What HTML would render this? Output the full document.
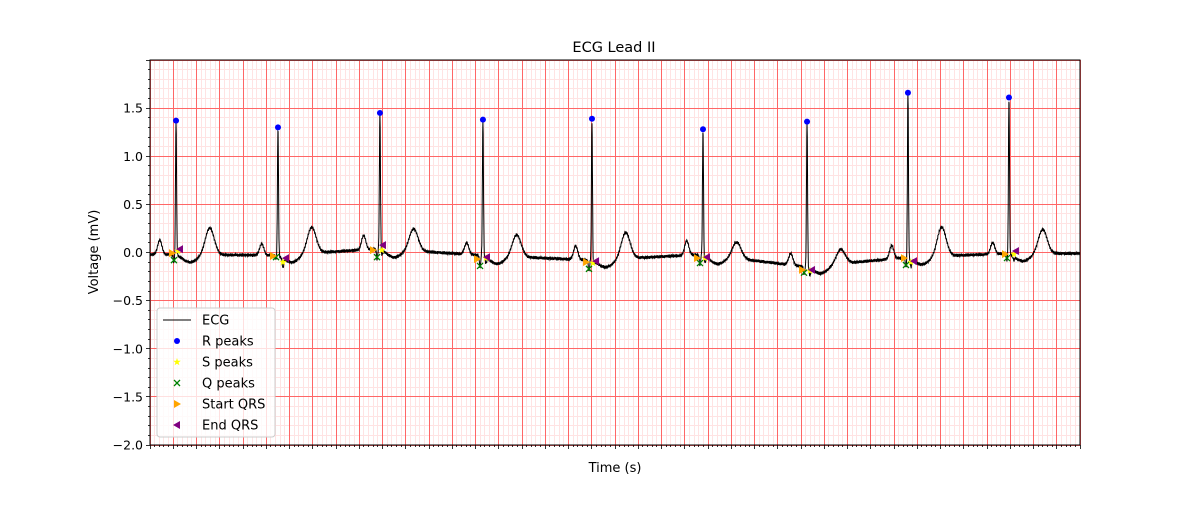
<!DOCTYPE html>
<html><head><meta charset="utf-8"><style>
body{margin:0;background:#fff;font-family:"Liberation Sans",sans-serif}
svg text{font-family:"DejaVu Sans","Liberation Sans",sans-serif}
</style></head><body>
<svg id="c" width="1200" height="500" xmlns="http://www.w3.org/2000/svg">
<rect width="1200" height="500" fill="#fff"/>
<g id="grid" shape-rendering="crispEdges"></g>
<g id="plot"></g>
<g id="axes"></g>
<text x="614" y="52" text-anchor="middle" font-size="14.5">ECG Lead II</text>
<text x="615" y="472" text-anchor="middle" font-size="13">Time (s)</text>
<text transform="translate(98,252) rotate(-90)" text-anchor="middle" font-size="13">Voltage (mV)</text>
<g id="legend"></g>
</svg>
<script>
const rTimes=[0.224,1.101,1.978,2.864,3.802,4.757,5.652,6.520,7.389];
const rAmps=[1.37,1.30,1.45,1.38,1.39,1.28,1.36,1.66,1.61];
const qTimes=[0.206,1.084,1.953,2.839,3.776,4.731,5.626,6.503,7.372];
const qAmps=[-0.079,-0.048,-0.048,-0.14,-0.17,-0.11,-0.21,-0.13,-0.058];
const sTimes=[0.241,1.144,1.995,2.890,3.811,4.774,5.677,6.546,7.432];
const sAmps=[0.015,-0.10,0.025,-0.058,-0.11,-0.058,-0.19,-0.10,-0.017];
const startTimes=[0.189,1.058,1.918,2.813,3.751,4.705,5.609,6.486,7.355];
const startAmps=[-0.006,-0.037,0.025,-0.069,-0.10,-0.058,-0.18,-0.058,-0.017];
const endTimes=[0.258,1.170,2.004,2.899,3.837,4.791,5.695,6.572,7.449];
const endAmps=[0.035,-0.058,0.077,-0.048,-0.089,-0.048,-0.18,-0.089,0.015];
const baseLevels=[-0.02,-0.03,0.04,-0.03,-0.08,-0.02,-0.15,-0.05,-0.01];
const pAmps=[0.15,0.12,0.15,0.12,0.14,0.15,0.12,0.14,0.12];
const tAmps=[0.28,0.27,0.23,0.23,0.27,0.17,0.15,0.30,0.25];
const yTicks=[-2.0,-1.5,-1.0,-0.5,0.0,0.5,1.0,1.5];
const yTickLabels=["\u22122.0","\u22121.5","\u22121.0","\u22120.5","0.0","0.5","1.0","1.5"];

const X0=150,X1=1080,Y0=60,Y1=445,TMIN=0,TMAX=8,VMIN=-2,VMAX=2;
const sx=t=>X0+(t-TMIN)/(TMAX-TMIN)*(X1-X0);
const sy=v=>Y1-(v-VMIN)/(VMAX-VMIN)*(Y1-Y0);
const snap=p=>Math.round(p-0.5)+0.5;
const NS="http://www.w3.org/2000/svg";
function mk(tag,attrs,parent){const e=document.createElementNS(NS,tag);for(const k in attrs)e.setAttribute(k,attrs[k]);parent.appendChild(e);return e;}
const grid=document.getElementById('grid'),plot=document.getElementById('plot'),axes=document.getElementById('axes'),leg=document.getElementById('legend');

// minor first, then major on top
for(const pass of [0,1]){
 for(let i=0;i<=200;i++){const t=i*0.04,x=snap(sx(t));if(x>X1+0.6)break;const major=i%5===0;if(major!==!!pass)continue;
  const l=mk('line',{x1:x,x2:x,y1:Y0,y2:Y1,stroke:major?'#ff6666':'#ffe3e3','stroke-width':1},grid);
  
  const tk=mk('line',{x1:x,x2:x,y1:Y1,y2:Y1+(major?4:2),stroke:'#000','stroke-width':0.8},axes);
  }
 for(let i=0;i<=40;i++){const v=VMIN+i*0.1,y=snap(sy(v));if(y<Y0-0.6)break;const major=i%5===0;if(major!==!!pass)continue;
  const l=mk('line',{x1:X0,x2:X1,y1:y,y2:y,stroke:major?'#ff6666':'#ffe3e3','stroke-width':1},grid);
  
  const tk=mk('line',{x1:X0,x2:X0-(major?4:2),y1:y,y2:y,stroke:'#000','stroke-width':0.8},axes);
  }
}
yTicks.forEach((v,i)=>{const t=mk('text',{x:X0-7,y:sy(v)+4.5,'text-anchor':'end','font-size':12.5},axes);t.textContent=yTickLabels[i];
 });
const fr=mk('rect',{x:X0,y:Y0,width:X1-X0,height:Y1-Y0,fill:'none',stroke:'#000','stroke-width':1},axes);


const g=(t,c,w)=>Math.exp(-0.5*((t-c)/w)**2);
function baseAt(t){if(t<=rTimes[0])return baseLevels[0];const n=rTimes.length;if(t>=rTimes[n-1])return baseLevels[n-1];
 for(let i=0;i<n-1;i++)if(t<=rTimes[i+1]){const f=(t-rTimes[i])/(rTimes[i+1]-rTimes[i]);return baseLevels[i]+f*(baseLevels[i+1]-baseLevels[i]);}}
let d='';
for(let t=0;t<=8.0001;t+=0.002){let v=baseAt(t);
 for(let i=0;i<rTimes.length;i++){const b=baseLevels[i],r=rTimes[i];if(Math.abs(t-r)>0.6)continue;
  v+=pAmps[i]*g(t,r-0.14,0.018);
  v+=(qAmps[i]-b-0.02)*g(t,qTimes[i],0.005);
  v+=(rAmps[i]-b)*g(t,r,0.0045);
  v+=(sAmps[i]-b-0.03)*g(t,sTimes[i],0.006);
  v+=-0.08*g(t,r+0.12,0.06);
  v+=tAmps[i]*g(t,r+0.29,0.038);}
 v+=0.01*Math.sin(t*611)+0.008*Math.sin(t*1373);
 d+=(d?'L':'M')+sx(t).toFixed(1)+' '+sy(v).toFixed(1);}
const ecg=mk('path',{d:d,fill:'none',stroke:'#000','stroke-width':1},plot);


function marker(kind,x,y,color,parent){let e;
 if(kind==='dot')e=mk('circle',{cx:x,cy:y,r:3,fill:color},parent);
 else if(kind==='x')e=mk('path',{d:`M${x-3} ${y-3}L${x+3} ${y+3}M${x-3} ${y+3}L${x+3} ${y-3}`,stroke:color,'stroke-width':1.3},parent);
 else if(kind==='star'){let p='';for(let k=0;k<10;k++){const a=-Math.PI/2+k*Math.PI/5,r=k%2?1.6:4;p+=(k?'L':'M')+(x+r*Math.cos(a)).toFixed(1)+' '+(y+r*Math.sin(a)).toFixed(1);}e=mk('path',{d:p+'Z',fill:color},parent);}
 else if(kind==='right')e=mk('path',{d:`M${x-3} ${y-4}L${x+4} ${y}L${x-3} ${y+4}Z`,fill:color},parent);
 else e=mk('path',{d:`M${x+3} ${y-4}L${x-4} ${y}L${x+3} ${y+4}Z`,fill:color},parent);
 return e;}
const series=[
 ['r-peak-marker','dot','#0000ff',rTimes,rAmps],
 ['s-peak-marker','star','#ffff00',sTimes,sAmps],
 ['q-peak-marker','x','#008000',qTimes,qAmps],
 ['start-qrs-marker','right','#ffa500',startTimes,startAmps],
 ['end-qrs-marker','left','#800080',endTimes,endAmps]];
series.forEach(s=>s[3].forEach((t,i)=>{const e=marker(s[1],sx(t),sy(s[4][i]),s[2],plot);
 }));

const lb=mk('rect',{x:157,y:308,width:118,height:129,rx:3,fill:'rgba(255,255,255,0.8)',stroke:'#ccc','stroke-width':1},leg);

const items=[['ECG','line','#000'],['R peaks','dot','#0000ff'],['S peaks','star','#ffff00'],['Q peaks','x','#008000'],['Start QRS','right','#ffa500'],['End QRS','left','#800080']];
items.forEach((it,i)=>{const y=320+i*21;
 const gEl=mk('g',{},leg);
 if(it[1]==='line')mk('line',{x1:163,x2:191,y1:y,y2:y,stroke:'#000','stroke-width':1},gEl);else marker(it[1],177,y,it[2],gEl);
 const t=mk('text',{x:202,y:y+4.5,'font-size':13},gEl);t.textContent=it[0];});
</script>
</body></html>
